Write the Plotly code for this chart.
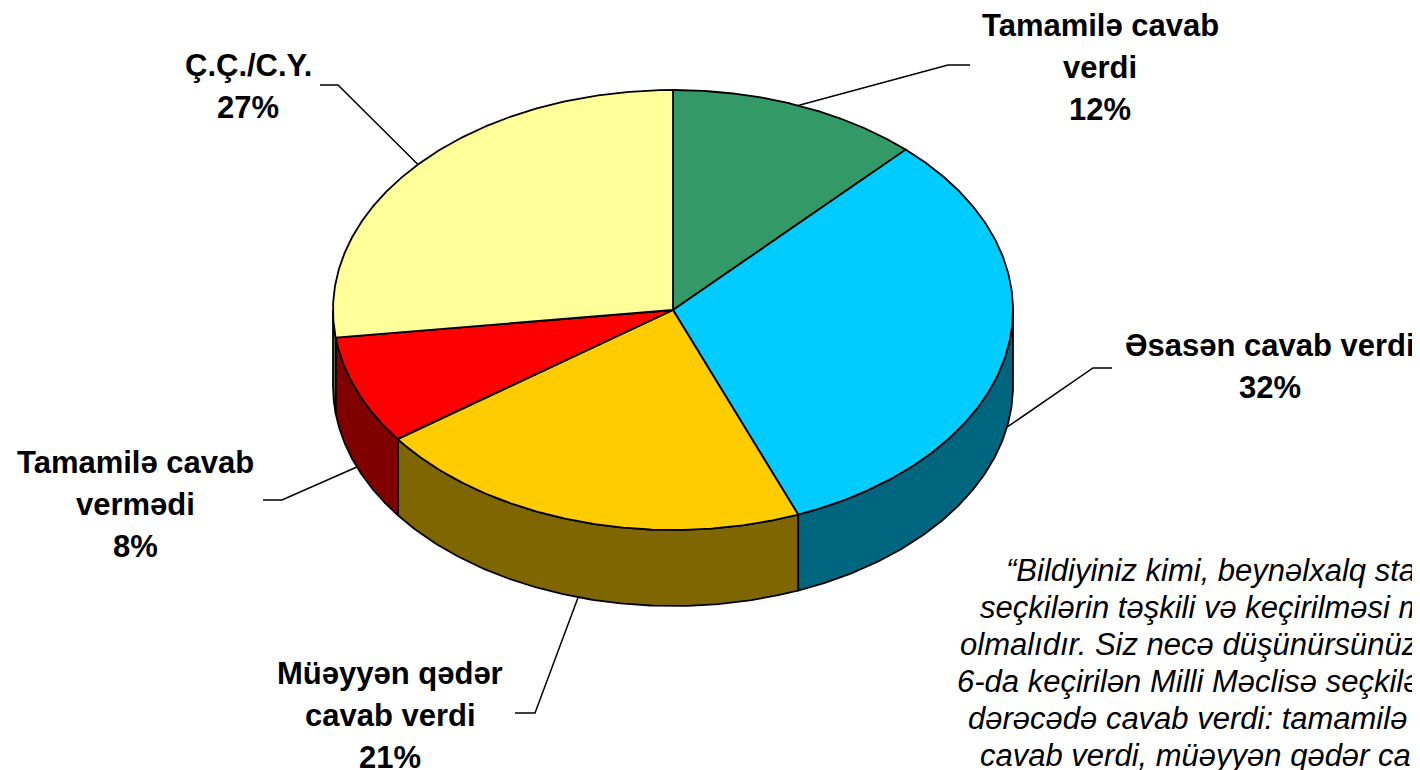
import numpy as np
import plotly.graph_objects as go

# ---- data ----
categories = ["Tamamilə cavab verdi", "Əsasən cavab verdi", "Müəyyən qədər cavab verdi",
              "Tamamilə cavab vermədi", "Ç.Ç./C.Y."]
values = [12, 32, 21, 8, 27]
label_lines = [["Tamamilə cavab", "verdi"], ["Əsasən cavab verdi"], ["Müəyyən qədər", "cavab verdi"],
               ["Tamamilə cavab", "vermədi"], ["Ç.Ç./C.Y."]]
top_colors = ["#339966", "#00CCFF", "#FFCC00", "#FF0000", "#FFFF99"]
side_colors = ["#1A4D33", "#006680", "#806600", "#800000", "#80804D"]

question_lines = [
    "“Bildiyiniz kimi, beynəlxalq standartlara görə",
    "seçkilərin təşkili və keçirilməsi müəyyən tələblərə",
    "olmalıdır. Siz necə düşünürsünüz, 2005-ci il noyabrın",
    "6-da keçirilən Milli Məclisə seçkilər bu tələblərə",
    "dərəcədə cavab verdi: tamamilə cavab verdi, əsasən",
    "cavab verdi, müəyyən qədər cavab verdi, tamamilə",
]

# ---- layout geometry (page pixel space; the page body has an 8px margin) ----
W, H, BODY = 1420, 762, 8
cx, cy, rx, ry, depth = 673, 310, 340, 220, 76
label_pos = [(1100, 25), (1270, 345), (390, 673), (135, 462), (248, 65)]
line_gap = 42
elbows = [((948, 65), (970, 65)), ((1093, 368), (1112, 368)), ((535, 713), (515, 713)),
          ((282, 500), (263, 500)), ((338, 85), (320, 85))]
q_left = [1004, 978, 958, 955, 966, 978]
q_y0, q_gap = 570, 37

FONT = "Liberation Sans, Arial, sans-serif"
LW = 1.8


def ell(t_deg, dy=0.0):
    t = np.radians(t_deg)
    return cx + rx * np.sin(t), cy - ry * np.cos(t) + dy


fig = go.Figure()
total = float(sum(values))
bounds = np.concatenate([[0], np.cumsum(values) / total * 360.0])

# side walls (front half only: 90..270 deg)
for i in range(len(values)):
    a, b = max(bounds[i], 90), min(bounds[i + 1], 270)
    if b <= a:
        continue
    t = np.linspace(a, b, 120)
    xt, yt = ell(t)
    xb, yb = ell(t[::-1], depth)
    xs = np.concatenate([xt, xb, xt[:1]])
    ys = np.concatenate([yt, yb, yt[:1]])
    fig.add_trace(go.Scatter(x=xs, y=ys, mode="lines", fill="toself", fillcolor=side_colors[i],
                             line=dict(color="black", width=LW), hoverinfo="skip", showlegend=False))

# top faces
for i in range(len(values)):
    t = np.linspace(bounds[i], bounds[i + 1], 200)
    xt, yt = ell(t)
    xs = np.concatenate([[cx], xt, [cx]])
    ys = np.concatenate([[cy], yt, [cy]])
    fig.add_trace(go.Scatter(x=xs, y=ys, mode="lines", fill="toself", fillcolor=top_colors[i],
                             line=dict(color="black", width=LW), name=categories[i],
                             hoverinfo="name", showlegend=False))

# leader lines and labels
annotations = []
for i in range(len(values)):
    mid = (bounds[i] + bounds[i + 1]) / 2
    front = 90 < mid < 270
    sx, sy = ell(mid, depth if front else 0)
    (ex, ey), (fx, fy) = elbows[i]
    fig.add_trace(go.Scatter(x=[sx, ex, fx], y=[sy, ey, fy], mode="lines",
                             line=dict(color="black", width=1.5), hoverinfo="skip", showlegend=False))
    lines = label_lines[i] + [f"{values[i]}%"]
    lx, ly = label_pos[i]
    for k, txt in enumerate(lines):
        annotations.append(dict(x=lx, y=ly + k * line_gap, text=f"<b>{txt}</b>", showarrow=False,
                                xanchor="center", yanchor="middle",
                                font=dict(family=FONT, size=31, color="black")))

for k, txt in enumerate(question_lines):
    annotations.append(dict(x=q_left[k], y=q_y0 + k * q_gap, text=f"<i>{txt}</i>", showarrow=False,
                            xanchor="left", yanchor="middle",
                            font=dict(family=FONT, size=31, color="black")))

fig.update_layout(
    width=W, height=H, margin=dict(l=0, r=0, t=0, b=0),
    paper_bgcolor="white", plot_bgcolor="white",
    xaxis=dict(range=[BODY, W + BODY], visible=False, fixedrange=True),
    yaxis=dict(range=[H + BODY, BODY], visible=False, fixedrange=True),
    annotations=annotations,
)

fig.write_html("out.html")
